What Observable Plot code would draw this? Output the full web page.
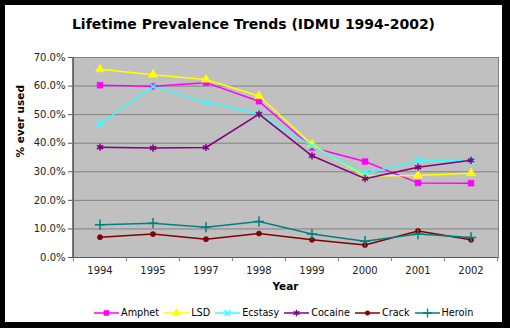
<!DOCTYPE html>
<html><head><meta charset="utf-8">
<script src="https://cdn.jsdelivr.net/npm/d3@7"></script>
<script src="https://cdn.jsdelivr.net/npm/@observablehq/plot@0.6"></script>
<style>
html,body{margin:0;padding:0;background:#000;}
body{width:510px;height:328px;overflow:hidden;position:relative;font-family:"DejaVu Sans",Verdana,sans-serif;}
#panel{position:absolute;left:5px;top:5px;width:497px;height:317px;background:#fff;}
#title{position:absolute;left:0;top:11px;width:497px;text-align:center;font-weight:bold;font-size:14px;color:#000;}
#chart{position:absolute;left:0;top:45px;}
#legend{position:absolute;left:89px;top:302px;display:flex;align-items:center;font-size:9.7px;color:#000;}
.item{display:flex;align-items:center;margin-right:5px;}
.item svg{margin-right:2px;}
</style>
</head><body>
<div id="panel">
  <div id="title">Lifetime Prevalence Trends (IDMU 1994-2002)</div>
  <div id="chart"></div>
  <div id="legend"></div>
</div>
<script>
const years = ["1994","1995","1997","1998","1999","2000","2001","2002"];
const amphet  = [60.3, 59.9, 61.2, 54.7, 38.5, 33.6, 26.1, 26.0];
const lsd     = [65.9, 64.0, 62.3, 56.5, 39.5, 28.5, 28.7, 29.5];
const ecstasy = [46.8, 59.8, 54.3, 50.3, 39.0, 29.3, 34.0, 33.8];
const cocaine = [38.6, 38.3, 38.5, 50.2, 35.6, 27.6, 31.6, 34.0];
const crack   = [7.1, 8.2, 6.4, 8.4, 6.2, 4.4, 9.3, 6.2];
const heroin  = [11.5, 12.0, 10.6, 12.6, 8.2, 5.7, 8.2, 7.0];
const yTicks  = [0, 10, 20, 30, 40, 50, 60, 70];
const yLabel = "% ever used";
const xLabel = "Year";

const series = [
  {name: "Amphet",  values: amphet,  color: "#ff00ff", symbol: "square",   filled: true,  r: 3.3},
  {name: "LSD",     values: lsd,     color: "#ffff00", symbol: "triangle", filled: true,  r: 3.4},
  {name: "Ecstasy", values: ecstasy, color: "#33ffff", symbol: "times",    filled: false, r: 3.2},
  {name: "Cocaine", values: cocaine, color: "#800080", symbol: "asterisk", filled: false, r: 3.4},
  {name: "Crack",   values: crack,   color: "#800000", symbol: "circle",   filled: true,  r: 2.6},
  {name: "Heroin",  values: heroin,  color: "#008080", symbol: "plus",     filled: false, r: 3.4}
];

const W = 497, H = 247, mL = 67, mR = 4, mT = 7, mB = 40;
const half = (W - mL - mR) / years.length / 2;

const marks = [
  Plot.frame({fill: "#c0c0c0", stroke: "#808080"}),
  Plot.ruleY(yTicks.slice(1, -1), {y: d => d, stroke: "#808080", strokeWidth: 1}),
  Plot.ruleY([0], {stroke: "#555"}),
  Plot.ruleX([years[0]], {x: d => d, stroke: "#555", dx: -half}),
  Plot.ruleX(years, {x: d => d, stroke: "#777", dx: -half, insetTop: H - mT - mB, insetBottom: -4}),
  Plot.ruleX([years[years.length - 1]], {x: d => d, stroke: "#777", dx: half, insetTop: H - mT - mB, insetBottom: -4}),
  Plot.axisY({ticks: yTicks, tickFormat: d => d.toFixed(1) + "%", tickSize: 4, tickPadding: 3, fontSize: 10, stroke: "#555", color: "#222", label: null}),
  Plot.axisX({tickSize: 0, tickPadding: 9, fontSize: 10, color: "#222", label: null}),
  Plot.text([yLabel], {frameAnchor: "left", rotate: -90, dx: -52, fontWeight: "bold", fontSize: 10.5, fill: "#000"}),
  Plot.text([xLabel], {frameAnchor: "bottom", dy: 32, fontWeight: "bold", fontSize: 10.5, fill: "#000"})
];

for (const s of series) {
  const data = years.map((y, i) => ({year: y, value: s.values[i]}));
  marks.push(Plot.line(data, {x: "year", y: "value", stroke: s.color, strokeWidth: 1.5}));
  marks.push(Plot.dot(data, s.filled
    ? {x: "year", y: "value", symbol: () => s.symbol, fill: s.color, stroke: s.color, strokeWidth: 0.5, r: s.r}
    : {x: "year", y: "value", symbol: () => s.symbol, stroke: s.color, fill: "none", strokeWidth: 1.5, r: s.r}));
}

const chart = Plot.plot({
  width: W, height: H,
  marginLeft: mL, marginRight: mR, marginTop: mT, marginBottom: mB,
  style: {fontFamily: "'DejaVu Sans', Verdana, sans-serif", fontSize: "10px", background: "transparent"},
  x: {type: "band", domain: years, padding: 0, axis: null},
  y: {domain: [0, 70], axis: null},
  symbol: {type: "identity"},
  marks
});
document.getElementById("chart").appendChild(chart);

// legend
const legend = d3.select("#legend");
const symMap = {square: d3.symbolSquare, triangle: d3.symbolTriangle, times: d3.symbolTimes,
                asterisk: d3.symbolAsterisk, circle: d3.symbolCircle, plus: d3.symbolPlus};
for (const s of series) {
  const item = legend.append("div").attr("class", "item");
  const sw = item.append("svg").attr("width", 25).attr("height", 10);
  sw.append("line").attr("x1", 0).attr("x2", 25).attr("y1", 5).attr("y2", 5)
    .attr("stroke", s.color).attr("stroke-width", 1.5);
  sw.append("path").attr("transform", "translate(12.5,5)")
    .attr("d", d3.symbol(symMap[s.symbol], Math.PI * s.r * s.r * 0.8)())
    .attr("fill", s.filled ? s.color : "none").attr("stroke", s.color)
    .attr("stroke-width", s.filled ? 0.5 : 1.3);
  item.append("span").text(s.name);
}
</script>
</body></html>
